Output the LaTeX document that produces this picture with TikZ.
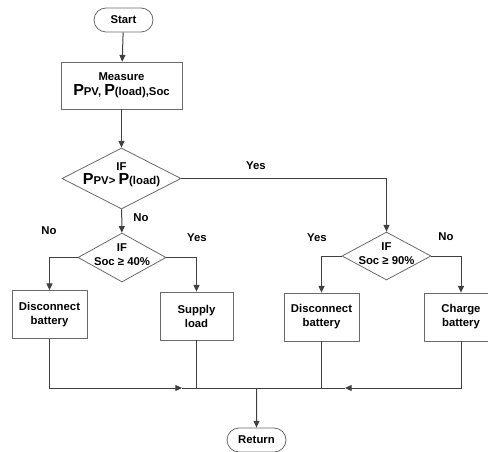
\documentclass[tikz,border=0pt]{standalone}
\usepackage{fontspec}
\setmainfont{Liberation Sans}
\usepackage{tikz}
\usetikzlibrary{shapes.misc,shapes.geometric,arrows.meta}

\definecolor{lnclr}{HTML}{404040}
\definecolor{boxclr}{HTML}{6A6A6A}
\newcommand{\bigP}{{\fontsize{12}{12}\selectfont P}}

\tikzset{
	flowline/.style={draw=lnclr, line width=0.75pt},
	flowarrow/.style={flowline, -{Triangle[length=5pt,width=4.5pt]}},
	terminal/.style={draw=boxclr, line width=0.6pt, rounded rectangle, inner sep=0pt, minimum width=44.25pt, minimum height=18pt, font=\fontsize{8.5}{10}\selectfont\bfseries},
	process/.style={draw=boxclr, line width=0.6pt, rectangle, inner sep=0pt, align=center, minimum height=36pt, font=\fontsize{8.5}{10.5}\selectfont\bfseries},
	decision/.style={draw=boxclr, line width=0.6pt, diamond, inner sep=0pt},
	dtext/.style={inner sep=0pt, align=center, font=\fontsize{8.5}{10.5}\selectfont\bfseries},
	lbl/.style={inner sep=0.75pt, font=\fontsize{8.5}{10}\selectfont\bfseries}
}

\begin{document}
\begin{tikzpicture}[x=0.75pt,y=0.75pt,yscale=-1,xscale=1]
	\useasboundingbox (0,0) rectangle (488,452);
	
	% terminals
	\node[terminal] (start) at (123.5,20) {Start};
	\node[terminal] (ret) at (256.5,440) {Return};
	
	% measure block
	\node[process, minimum width=90.75pt, minimum height=35.25pt] (measure) at (121.5,85.5) {Measure\\[1pt]\bigP{}PV, \bigP{}(load),Soc};
	
	% decisions
	\node[decision, minimum width=89.25pt, minimum height=45.75pt] (ifpv) at (121.5,178.5) {};
	\node[dtext] (ifpvtxt) at (121.5,175) {IF\\\bigP{}PV> \bigP{}(load)};
	\node[decision, minimum width=66pt, minimum height=36.75pt] (ifsoca) at (122,257.5) {};
	\node[dtext] (ifsocatxt) at (122,255) {IF\\Soc ≥ 40\%};
	\node[decision, minimum width=66.75pt, minimum height=36pt] (ifsocb) at (386.5,256) {};
	\node[dtext] (ifsocbtxt) at (386.5,253.5) {IF\\Soc ≥ 90\%};
	
	% action blocks
	\node[process, minimum width=56.25pt] (discA) at (49.5,314.5) {Disconnect\\battery};
	\node[process, minimum width=54.75pt] (supply) at (196.5,316) {Supply\\load};
	\node[process, minimum width=56.25pt] (discB) at (321.5,317) {Disconnect\\battery};
	\node[process, minimum width=55.5pt] (charge) at (461,317) {Charge\\battery};
	
	% join points on the collecting line
	\coordinate (arrL) at (182,388);
	\coordinate (arrR) at (345,388);
	\coordinate (join) at (256.5,388);
	
	% main path
	\draw[flowarrow] (start) -- (measure);
	\draw[flowarrow] (measure) -- (ifpv);
	\draw[flowarrow] (ifpv) -- (ifsoca);
	\draw[flowarrow] (ifpv.east) -| (ifsocb.north);
	
	% branches
	\draw[flowarrow] (ifsoca.west) -| (discA.north);
	\draw[flowarrow] (ifsoca.east) -| (supply.north);
	\draw[flowarrow] (ifsocb.west) -| (discB.north);
	\draw[flowarrow] (ifsocb.east) -| (charge.north);
	
	% collecting line
	\draw[flowarrow] (discA.south) |- (arrL);
	\draw[flowarrow] (charge.south) |- (arrR);
	\draw[flowline] (arrL) -- (arrR);
	\draw[flowline] (supply.south) -- (supply.south |- join);
	\draw[flowline] (discB.south) -- (discB.south |- join);
	\draw[flowarrow] (join) -- (ret);
	
	% labels
	\node[lbl] (yesa) at (256,166) {Yes};
	\node[lbl] (noa) at (141,218) {No};
	\node[lbl] (nob) at (49,231) {No};
	\node[lbl] (yesb) at (197,238) {Yes};
	\node[lbl] (yesc) at (317,238) {Yes};
	\node[lbl] (noc) at (446,237) {No};
	
\end{tikzpicture}
\end{document}
